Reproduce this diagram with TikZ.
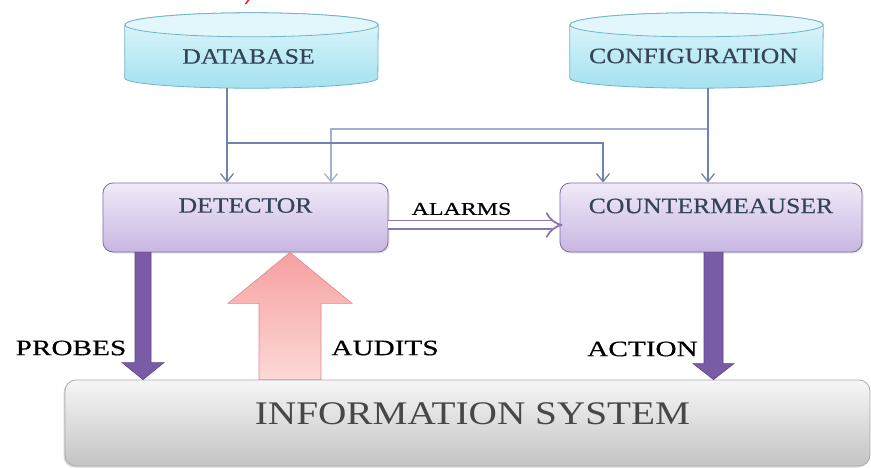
\documentclass[tikz,border=0pt]{standalone}
\usepackage{fontspec}
\setmainfont{Liberation Serif}
\newfontfamily\boxfont[FakeStretch=1.17,FakeBold=0.4]{Liberation Serif}
\newfontfamily\labfont[FakeStretch=1.33,FakeBold=0.5]{Liberation Serif}
\newfontfamily\sysfont[FakeStretch=1.19]{Liberation Serif}
\usetikzlibrary{arrows.meta,calc,shadows}

\definecolor{cylTop}{HTML}{E2F7FC}
\definecolor{cylBot}{HTML}{A4E1F0}
\definecolor{cylEdge}{HTML}{72B3C6}
\definecolor{boxTop}{HTML}{F0EAF8}
\definecolor{boxBot}{HTML}{C8B6E3}
\definecolor{boxEdge}{HTML}{7E6E9E}
\definecolor{boxText}{HTML}{34435A}
\definecolor{wire}{HTML}{7282AE}
\definecolor{wireLight}{HTML}{A3B0CE}
\definecolor{fatPurple}{HTML}{7A5BA6}
\definecolor{fatPurpleEdge}{HTML}{5E4490}
\definecolor{pinkTop}{HTML}{F6A0A0}
\definecolor{pinkBot}{HTML}{FDD8D8}
\definecolor{pinkEdge}{HTML}{E08888}
\definecolor{sysTop}{HTML}{F6F6F6}
\definecolor{sysBot}{HTML}{C4C4C4}
\definecolor{sysText}{HTML}{474747}

% cylinder drawn round an empty rectangle node
\newcommand\drawcyl[1]{%
  \shade[top color=cylTop,bottom color=cylBot,draw=cylEdge,line width=0.8pt]
    ([yshift=-12pt]#1.north west) -- ([yshift=10pt]#1.south west)
    arc[start angle=180,end angle=360,x radius=126.5pt,y radius=10pt]
    -- ([yshift=-12pt]#1.north east)
    arc[start angle=0,end angle=180,x radius=126.5pt,y radius=12pt] -- cycle;
  \draw[cylEdge,line width=0.8pt,fill=cylTop]
    ([yshift=-12pt]#1.north) ellipse[x radius=126.5pt,y radius=12pt];
}

% thick block arrow: style, base point, tip point, shaft half width, head half width, head length
\newcommand\blockarrow[6]{%
  \path[#1] ($(#2)+(-#4,0)$) -- ($(#2)+(#4,0)$) -- ($(#3)+(#4,{-(#6)})$)
    -- ($(#3)+(#5,{-(#6)})$) -- (#3) -- ($(#3)+(-#5,{-(#6)})$)
    -- ($(#3)+(-#4,{-(#6)})$) -- cycle;
}

\tikzset{
  cylnode/.style={rectangle,inner sep=0pt,minimum width=253pt,minimum height=75pt},
  procbox/.style={rectangle,rounded corners=10pt,inner sep=0pt,
    minimum width=#1,minimum height=69pt,top color=boxTop,bottom color=boxBot,
    draw=boxEdge,line width=0.8pt,
    drop shadow={shadow xshift=1.5pt,shadow yshift=-1.5pt,opacity=0.2}},
  sysbox/.style={rectangle,rounded corners=11pt,inner sep=0pt,
    minimum width=805pt,minimum height=86pt,top color=sysTop,bottom color=sysBot,
    draw=gray!65,line width=0.8pt,
    drop shadow={shadow xshift=-1.5pt,shadow yshift=-1.5pt,opacity=0.3}},
  boxtext/.style={inner sep=0pt,text=boxText,font=\boxfont\fontsize{22}{24}\selectfont},
  labtext/.style={inner sep=0pt,text=black,font=\labfont\fontsize{22}{24}\selectfont},
  systext/.style={inner sep=0pt,text=sysText,font=\sysfont\fontsize{33}{36}\selectfont},
  wire/.style={draw=wire,line width=1.3pt,-{Straight Barb[length=8pt,width=13pt]}},
  wirelight/.style={wire,draw=wireLight},
  alarm/.style={draw=fatPurple!85,line width=1.8pt,double=white,double distance=7pt,
    -{Implies[length=9pt]},shorten >=-3pt},
  purplearrow/.style={fill=fatPurple,draw=fatPurpleEdge,line width=0.6pt},
  pinkarrow/.style={top color=pinkTop,bottom color=pinkBot,draw=pinkEdge,line width=0.6pt},
}

\begin{document}
\begin{tikzpicture}[x=1pt,y=-1pt]
\useasboundingbox (0,0) rectangle (871,468);
\clip (0,0) rectangle (871,468);
\fill[white] (0,0) rectangle (871,468);

% stores
\node[cylnode] (db) at (251.5,50.5) {};
\node[cylnode] (cfg) at (696.5,50.5) {};
\drawcyl{db}
\drawcyl{cfg}
\node[boxtext] (dbt) at (248.5,56.5) {DATABASE};
\node[boxtext] (cfgt) at (693.5,56) {CONFIGURATION};

% processing units
\node[procbox=285pt] (det) at (245.5,217.5) {};
\node[procbox=302pt] (cm) at (711,217.5) {};
\node[boxtext] (dett) at ([yshift=12pt]det.center) {DETECTOR};
\node[boxtext] (cmt) at ([yshift=11.5pt]cm.center) {COUNTERMEAUSER};

% information system
\node[sysbox] (sys) at (467.5,423) {};
\node[systext] (syst) at ([xshift=5pt,yshift=9pt]sys.center) {INFORMATION SYSTEM};

% configuration feeds
\coordinate (j1) at (227,143);
\coordinate (j2) at (708,129);
\draw[wirelight] (j2) -| ([xshift=85.5pt]det.north);
\draw[wire] ([xshift=-24.5pt]db.south) -- ([xshift=-18.5pt]det.north);
\draw[wire] (j1) -| ([xshift=-108pt]cm.north);
\draw[wire] ([xshift=11.5pt]cfg.south) -- ([xshift=-3pt]cm.north);

% alarms
\draw[alarm] ([yshift=-7.5pt]det.east) -- ([yshift=-7.5pt]cm.west);
\node[labtext,font=\labfont\fontsize{18}{20}\selectfont] (alarms) at (461.5,209) {ALARMS};

% probes, audits, action
\coordinate (pb) at ([xshift=-102.5pt]det.south);
\coordinate (pt) at (pb |- sys.north);
\blockarrow{purplearrow}{pb}{pt}{8}{21}{17}
\coordinate (ab) at ([xshift=44.5pt]det.south |- sys.north);
\coordinate (at) at ([xshift=44.5pt]det.south);
\blockarrow{pinkarrow}{ab}{at}{31}{62}{-51}
\coordinate (cb) at ([xshift=2.5pt]cm.south);
\coordinate (ct) at (cb |- sys.north);
\blockarrow{purplearrow}{cb}{ct}{9.5}{20.5}{16}

\node[labtext] (probes) at (71,348) {PROBES};
\node[labtext] (audits) at (385,348) {AUDITS};
\node[labtext] (action) at (642.5,349) {ACTION};

% stray red stroke at the top edge
\draw[red,line width=1.3pt] (245.5,4) -- (248.5,0);
\end{tikzpicture}
\end{document}
